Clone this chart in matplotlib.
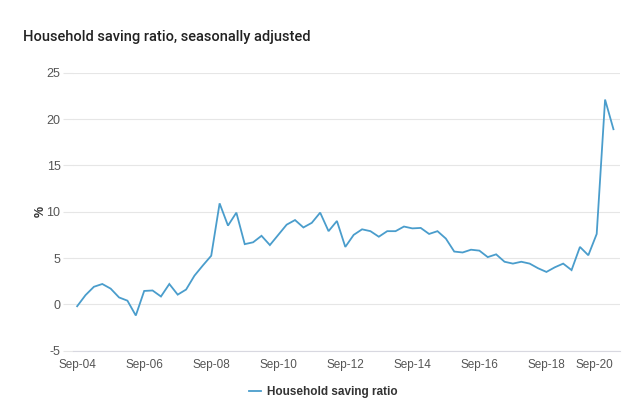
import matplotlib
matplotlib.use("Agg")
import matplotlib.pyplot as plt

# Quarterly, Sep-04 .. Sep-20
quarters = []
months = ["Sep", "Dec", "Mar", "Jun"]
for i in range(65):
    m = months[i % 4]
    yr = 4 + (i + 2) // 4
    quarters.append(f"{m}-{yr:02d}")

saving_ratio = [
    -0.2, 1.0, 1.9, 2.2, 1.7, 0.75, 0.4, -1.2, 1.45, 1.5,
    0.85, 2.2, 1.05, 1.6, 3.1, 4.2, 5.25, 10.9, 8.5, 9.9,
    6.5, 6.7, 7.4, 6.4, 7.5, 8.6, 9.1, 8.3, 8.8, 9.9,
    7.9, 9.0, 6.2, 7.5, 8.1, 7.9, 7.3, 7.9, 7.9, 8.4,
    8.2, 8.25, 7.6, 7.9, 7.1, 5.7, 5.6, 5.9, 5.8, 5.1,
    5.4, 4.6, 4.4, 4.6, 4.4, 3.9, 3.5, 4.0, 4.4, 3.7,
    6.2, 5.3, 7.6, 22.1, 18.9,
]
yticks = [-5, 0, 5, 10, 15, 20, 25]
xtick_labels = ["Sep-04", "Sep-06", "Sep-08", "Sep-10", "Sep-12",
                "Sep-14", "Sep-16", "Sep-18", "Sep-20"]

plt.rcParams["font.family"] = ["Liberation Sans", "DejaVu Sans"]
plt.rcParams["axes.unicode_minus"] = False

fig = plt.figure(figsize=(6.4, 4.01), dpi=100)
ax = fig.add_axes([0.114, 0.1254, 0.855, 0.6933])

x = list(range(len(quarters)))
line, = ax.plot(x, saving_ratio, color="#4a9dcc", lw=1.3,
                solid_joinstyle="miter", label="Household saving ratio")

ax.set_ylim(-5, 25)
ax.set_yticks(yticks)
ax.set_xlim(-0.5, 64.8)
tick_pos = [quarters.index(l) for l in xtick_labels]
ax.set_xticks(tick_pos)
ax.set_xticklabels(xtick_labels)
labels = ax.get_xticklabels()
labels[-1].set_horizontalalignment("right")

ax.grid(axis="y", color="#e6e6e6", lw=0.8)
ax.set_axisbelow(True)
for s in ["top", "right", "left"]:
    ax.spines[s].set_visible(False)
ax.spines["bottom"].set_color("#d8d8e0")
ax.spines["bottom"].set_linewidth(0.8)

ax.tick_params(axis="y", length=7, color="#e6e6e6", labelsize=9,
               labelcolor="#555555", pad=2)
ax.tick_params(axis="x", length=0, labelsize=8.5, labelcolor="#555555", pad=6)

ax.set_ylabel("%", fontsize=9, fontweight="bold", color="#333333", labelpad=0)

fig.text(0.036, 0.908, "Household saving ratio, seasonally adjusted",
         fontsize=10.5, color="#222222", va="center",
         family=["Roboto", "Liberation Sans"], fontweight="medium")

leg = fig.legend(handles=[line], loc="center", bbox_to_anchor=(0.505, 0.022),
                 frameon=False, fontsize=8.5, handlelength=1.0,
                 handletextpad=0.5)
for t in leg.get_texts():
    t.set_fontweight("bold")
    t.set_color("#333333")

fig.savefig("out.png", dpi=100, facecolor="white")
